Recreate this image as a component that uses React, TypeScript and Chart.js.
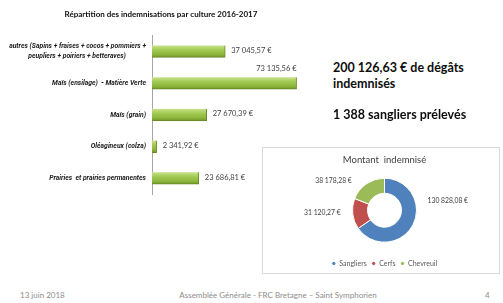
import React, { useEffect, useRef } from "react";
import { Chart, registerables } from "chart.js";
Chart.register(...registerables);

const barTitle = "Répartition des indemnisations par culture 2016-2017";
const cultureLabels: (string | string[])[] = [
  ["autres (Sapins + fraises + cocos + pommiers +", "peupliers + poiriers + betteraves)"],
  "Maïs (ensilage)  - Matière Verte",
  "Maïs (grain)",
  "Oléagineux (colza)",
  "Prairies  et prairies permanentes",
];
const cultureValues = [37045.57, 73135.56, 27670.39, 2341.92, 23686.81];

const donutTitle = "Montant  indemnisé";
const especeLabels = ["Sangliers", "Cerfs", "Chevreuil"];
const especeValues = [130828.08, 31120.27, 38178.28];
const especeColors = ["#4F81BD", "#C0504D", "#9BBB59"];

const totalLines = ["200 126,63 € de dégâts", "indemnisés"];
const sangliersLine = "1 388 sangliers prélevés";
const footerLeft = "13 juin 2018";
const footerCenter = "Assemblée Générale - FRC Bretagne – Saint Symphorien";
const footerRight = "4";

const FONT = "Lato, 'Open Sans', sans-serif";
const TICK_FAMILY = "Roboto, 'Liberation Sans', sans-serif";

function fmtEuro(v: number): string {
  const [i, d] = v.toFixed(2).split(".");
  return i.replace(/\B(?=(\d{3})+(?!\d))/g, " ") + "," + d + " €";
}

const tickFont = {
  family: TICK_FAMILY,
  size: 6.8,
  weight: "bold" as const,
  style: "italic" as const,
  lineHeight: 1.45,
};

function centerLines(lines: string[]): string[] {
  const c = document.createElement("canvas").getContext("2d")!;
  c.font = `italic bold ${tickFont.size}px ${TICK_FAMILY}`;
  const widths = lines.map((l) => c.measureText(l).width);
  const maxW = Math.max(...widths);
  const sp = c.measureText("\u00A0").width || 1.5;
  return lines.map(
    (l, k) => l + "\u00A0".repeat(Math.max(0, Math.round((maxW - widths[k]) / 2 / sp)))
  );
}

const barValueLabels = {
  id: "barValueLabels",
  afterDatasetsDraw(chart: any) {
    const ctx = chart.ctx;
    const meta = chart.getDatasetMeta(0);
    const data = chart.data.datasets[0].data as number[];
    const maxV = Math.max(...data);
    ctx.save();
    ctx.font = `7.5px ${FONT}`;
    ctx.fillStyle = "#404040";
    ctx.textBaseline = "middle";
    meta.data.forEach((bar: any, i: number) => {
      const t = fmtEuro(data[i]);
      if (data[i] === maxV) {
        ctx.textAlign = "right";
        ctx.fillText(t, bar.x, bar.y - 15);
      } else {
        ctx.textAlign = "left";
        ctx.fillText(t, bar.x + 6, bar.y - 1);
      }
    });
    ctx.restore();
  },
};

const donutValueLabels = {
  id: "donutValueLabels",
  afterDatasetsDraw(chart: any) {
    const ctx = chart.ctx;
    const meta = chart.getDatasetMeta(0);
    const data = chart.data.datasets[0].data as number[];
    const angles = [78, 266, 312];
    ctx.save();
    ctx.font = `6.8px ${FONT}`;
    ctx.fillStyle = "#404040";
    ctx.textBaseline = "middle";
    meta.data.forEach((arc: any, i: number) => {
      const a = (angles[i] * Math.PI) / 180;
      const r = arc.outerRadius + 12;
      const x = arc.x + r * Math.sin(a);
      const y = arc.y - r * Math.cos(a);
      ctx.textAlign = x > arc.x ? "left" : "right";
      ctx.fillText(fmtEuro(data[i]), x, y);
    });
    ctx.restore();
  },
};

function BarChart() {
  const ref = useRef<HTMLCanvasElement>(null);
  useEffect(() => {
    const chart = new Chart(ref.current!, {
      type: "bar",
      data: {
        labels: cultureLabels.map((l) => (Array.isArray(l) ? centerLines(l) : l)),
        datasets: [
          {
            data: cultureValues,
            barThickness: 12,
            borderWidth: { top: 0, left: 0, right: 1, bottom: 1 } as any,
            borderColor: "#6A8A2A",
            borderSkipped: false,
            backgroundColor: (c: any) => {
              const ch = c.chart;
              if (!ch.chartArea || !ch.scales.y) return "#92BD45";
              const y = ch.scales.y.getPixelForValue(c.dataIndex);
              const g = ch.ctx.createLinearGradient(0, y - 6, 0, y + 6);
              g.addColorStop(0, "#C9E38C");
              g.addColorStop(0.35, "#A3CB55");
              g.addColorStop(0.75, "#8DB63C");
              g.addColorStop(1, "#6F9228");
              return g;
            },
          },
        ],
      },
      options: {
        indexAxis: "y",
        responsive: false,
        animation: false,
        layout: { padding: { top: 0, bottom: 6, left: 0, right: 0 } },
        plugins: {
          legend: { display: false },
          tooltip: { enabled: false },
          title: {
            display: true,
            text: barTitle,
            color: "#0D0D0D",
            font: { family: FONT, size: 8, weight: "bold" },
            padding: { top: 10, bottom: 16 },
          },
        },
        scales: {
          x: { display: false, min: 0, max: 86000 },
          y: {
            afterFit: (s: any) => {
              s.width = 152;
            },
            grid: { display: false, drawTicks: false },
            border: { display: true, color: "#A6A6A6", width: 1 },
            ticks: { color: "#1A1A1A", font: tickFont, padding: 6 },
          },
        },
      },
      plugins: [barValueLabels],
    });
    return () => chart.destroy();
  }, []);
  return (
    <canvas
      ref={ref}
      width={322}
      height={210}
      style={{ position: "absolute", left: 0, top: 0, width: 322, height: 210 }}
    />
  );
}

function DonutChart() {
  const ref = useRef<HTMLCanvasElement>(null);
  useEffect(() => {
    const chart = new Chart(ref.current!, {
      type: "doughnut",
      data: {
        labels: especeLabels,
        datasets: [
          {
            data: especeValues,
            backgroundColor: especeColors,
            borderColor: "#FFFFFF",
            borderWidth: 1,
          },
        ],
      },
      options: {
        responsive: false,
        animation: false,
        radius: 32,
        cutout: 23.5,
        layout: { padding: { left: 7, right: 0, top: 0, bottom: 0 } },
        plugins: {
          tooltip: { enabled: false },
          title: {
            display: true,
            text: donutTitle,
            color: "#404040",
            font: { family: FONT, size: 9.5, weight: "normal" },
            padding: { top: 6, bottom: 0 },
          },
          legend: {
            position: "bottom",
            labels: {
              usePointStyle: true,
              pointStyle: "circle",
              boxWidth: 4,
              boxHeight: 3,
              padding: 5,
              color: "#595959",
              font: { family: FONT, size: 7 },
            },
          },
        },
      } as any,
      plugins: [donutValueLabels],
    });
    return () => chart.destroy();
  }, []);
  return (
    <canvas
      ref={ref}
      width={236}
      height={129}
      style={{ position: "absolute", left: 263, top: 148, width: 236, height: 129 }}
    />
  );
}

export default function App() {
  const big: React.CSSProperties = {
    position: "absolute",
    left: 333,
    fontFamily: FONT,
    fontWeight: "bold",
    fontSize: 12.5,
    color: "#0D0D0D",
    whiteSpace: "nowrap",
    lineHeight: "16px",
  };
  const foot: React.CSSProperties = {
    position: "absolute",
    top: 289,
    fontFamily: FONT,
    fontSize: 8,
    color: "#8C8C8C",
    whiteSpace: "nowrap",
    lineHeight: "12px",
  };
  return (
    <div
      style={{
        position: "absolute",
        left: 0,
        top: 0,
        width: 503,
        height: 303,
        overflow: "hidden",
        background: "#FFFFFF",
      }}
    >
      <BarChart />
      <div
        style={{
          position: "absolute",
          left: 262,
          top: 147,
          width: 238,
          height: 127,
          boxSizing: "border-box",
          border: "1px solid #D9D9D9",
        }}
      />
      <DonutChart />
      <div style={{ ...big, top: 60 }}>
        {totalLines[0]}
        <br />
        {totalLines[1]}
      </div>
      <div style={{ ...big, top: 107 }}>{sangliersLine}</div>
      <div style={{ ...foot, left: 20 }}>{footerLeft}</div>
      <div style={{ ...foot, left: 158, width: 240, textAlign: "center" }}>{footerCenter}</div>
      <div style={{ ...foot, left: 485 }}>{footerRight}</div>
    </div>
  );
}
